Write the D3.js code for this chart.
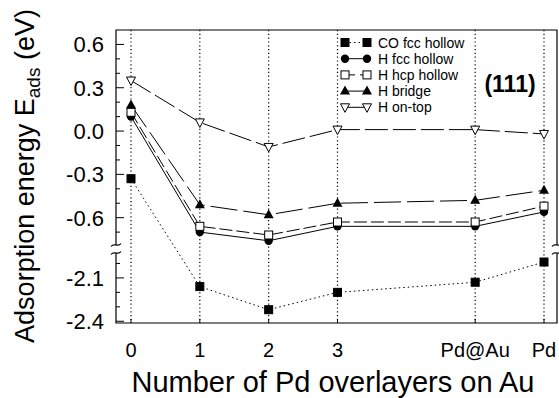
<!DOCTYPE html>
<html>
<head>
<meta charset="utf-8">
<script src="https://cdn.jsdelivr.net/npm/d3@7/dist/d3.min.js"></script>
<style>
  body { margin: 0; background: #fff; }
  svg { font-family: "Liberation Sans", Arial, Helvetica, sans-serif; }
</style>
</head>
<body>
<div id="chart"></div>
<script>
// x positions and their tick labels
var xPos = [0, 1, 2, 3, 5, 6];
var xLabels = ["0", "1", "2", "3", "Pd@Au", "Pd"];

// adsorption energies (eV)
var coFcc = [-0.33, -2.16, -2.32, -2.20, -2.13, -1.99];
var hFcc = [0.10, -0.70, -0.76, -0.66, -0.66, -0.56];
var hHcp = [0.13, -0.66, -0.72, -0.63, -0.63, -0.52];
var hBridge = [0.18, -0.51, -0.58, -0.50, -0.48, -0.41];
var hOnTop = [0.35, 0.06, -0.11, 0.01, 0.01, -0.02];

var seriesNames = ["CO fcc hollow", "H fcc hollow", "H hcp hollow", "H bridge", "H on-top"];

// y ticks on both sides of the axis break
var yMajor = [0.6, 0.3, 0.0, -0.3, -0.6, -2.1, -2.4];
var yMinor = [0.5, 0.4, 0.2, 0.1, -0.1, -0.2, -0.4, -0.5, -0.7, -2.0, -2.2, -2.3];

var W = 559, H = 398;
var pLeft = 116, pRight = 557, pTop = 30, pBottom = 323;
var breakY = 249;

var svg = d3.select("#chart").append("svg")
    .attr("width", W)
    .attr("height", H);

var x = d3.scaleLinear().domain([0, 6]).range([131, 544]);
// piecewise scale: upper part 0.7..-0.817, lower part -1.9..-2.412
var y = d3.scaleLinear()
    .domain([-2.412, -1.9, -0.817, 0.7])
    .range([pBottom, breakY, breakY, pTop]);

// vertical dotted grid lines
svg.append("g").selectAll("line")
    .data(xPos)
    .enter()
    .append("line")
    .attr("x1", function (d) { return x(d); })
    .attr("x2", function (d) { return x(d); })
    .attr("y1", pTop)
    .attr("y2", pBottom)
    .attr("stroke", "#000")
    .attr("stroke-width", 1.2)
    .attr("stroke-dasharray", "1.2,2.6");

// small solid ticks at the bottom
svg.append("g").selectAll("line")
    .data(xPos)
    .enter()
    .append("line")
    .attr("x1", function (d) { return x(d); })
    .attr("x2", function (d) { return x(d); })
    .attr("y1", pBottom)
    .attr("y2", pBottom - 4)
    .attr("stroke", "#000");

// y ticks (inside frame)
svg.append("g").selectAll("line")
    .data(yMajor)
    .enter()
    .append("line")
    .attr("x1", pLeft)
    .attr("x2", pLeft + 8)
    .attr("y1", function (d) { return y(d); })
    .attr("y2", function (d) { return y(d); })
    .attr("stroke", "#000");
svg.append("g").selectAll("line")
    .data(yMinor)
    .enter()
    .append("line")
    .attr("x1", pLeft)
    .attr("x2", pLeft + 4)
    .attr("y1", function (d) { return y(d); })
    .attr("y2", function (d) { return y(d); })
    .attr("stroke", "#000");

// frame, broken at the axis break
var b1 = breakY - 4, b2 = breakY + 4;
var frame = "M" + pLeft + "," + b1 + "V" + pTop + "H" + pRight + "V" + b1 +
    "M" + pLeft + "," + b2 + "V" + pBottom + "H" + pRight + "V" + b2;
svg.append("path")
    .attr("d", frame)
    .attr("fill", "none")
    .attr("stroke", "#000")
    .attr("stroke-width", 1.2);

// break marks
[pLeft, pRight].forEach(function (bx) {
    [b1, b2].forEach(function (by) {
        svg.append("path")
            .attr("d", "M" + (bx - 5) + "," + (by + 1.5) +
                " C" + (bx - 2) + "," + (by - 3) + " " + (bx + 2) + "," + (by + 3) + " " + (bx + 5) + "," + (by - 1.5))
            .attr("fill", "none")
            .attr("stroke", "#000")
            .attr("stroke-width", 1.2);
    });
});

// y tick labels
svg.append("g").selectAll("text")
    .data(yMajor)
    .enter()
    .append("text")
    .attr("x", pLeft - 12)
    .attr("y", function (d) { return y(d) + 8; })
    .attr("text-anchor", "end")
    .attr("font-size", 22)
    .text(function (d) { return d.toFixed(1); });

// x tick labels
svg.append("g").selectAll("text")
    .data(xPos)
    .enter()
    .append("text")
    .attr("x", function (d) { return x(d); })
    .attr("y", 357)
    .attr("text-anchor", "middle")
    .attr("font-size", 20)
    .text(function (d, i) { return xLabels[i]; });

// axis titles
svg.append("text")
    .attr("x", 333)
    .attr("y", 392)
    .attr("text-anchor", "middle")
    .attr("font-size", 29)
    .text("Number of Pd overlayers on Au");

var yt = svg.append("text")
    .attr("transform", "translate(34,176) rotate(-90)")
    .attr("text-anchor", "middle")
    .attr("font-size", 27);
yt.append("tspan").text("Adsorption energy E");
yt.append("tspan").attr("font-size", 19).attr("dy", 6).text("ads");
yt.append("tspan").attr("dy", -6).text(" (eV)");

// series styles
var dashes = ["1.5,3", null, "13,4", "27,6", "23,5"];
var markers = ["square", "circle", "squareOpen", "triangle", "triangleDown"];
var allSeries = [coFcc, hFcc, hHcp, hBridge, hOnTop];

function drawMarker(g, kind, cx, cy) {
    if (kind === "square" || kind === "squareOpen") {
        g.append("rect")
            .attr("x", cx - 4).attr("y", cy - 4)
            .attr("width", 8).attr("height", 8)
            .attr("fill", kind === "square" ? "#000" : "#fff")
            .attr("stroke", "#000").attr("stroke-width", 1);
    } else if (kind === "circle") {
        g.append("circle")
            .attr("cx", cx).attr("cy", cy).attr("r", 4.2)
            .attr("fill", "#000");
    } else if (kind === "triangle") {
        g.append("path")
            .attr("d", "M" + cx + "," + (cy - 5.5) + "L" + (cx + 5) + "," + (cy + 3.5) + "L" + (cx - 5) + "," + (cy + 3.5) + "Z")
            .attr("fill", "#000");
    } else {
        g.append("path")
            .attr("d", "M" + cx + "," + (cy + 5) + "L" + (cx + 4.5) + "," + (cy - 3.5) + "L" + (cx - 4.5) + "," + (cy - 3.5) + "Z")
            .attr("fill", "#fff").attr("stroke", "#000").attr("stroke-width", 1);
    }
}

var line = d3.line()
    .x(function (d, i) { return x(xPos[i]); })
    .y(function (d) { return y(d); });

// draw lines first, then markers on top
allSeries.forEach(function (s, k) {
    svg.append("path")
        .attr("d", line(s))
        .attr("fill", "none")
        .attr("stroke", "#000")
        .attr("stroke-width", 1)
        .attr("stroke-dasharray", dashes[k]);
});
allSeries.forEach(function (s, k) {
    var g = svg.append("g");
    s.forEach(function (v, i) {
        drawMarker(g, markers[k], x(xPos[i]), y(v));
    });
});

// legend
var legend = svg.append("g");
seriesNames.forEach(function (name, k) {
    var ly = 42.5 + k * 16.2;
    legend.append("rect")
        .attr("x", 340).attr("y", ly - 7)
        .attr("width", 130).attr("height", 14)
        .attr("fill", "#fff");
    legend.append("line")
        .attr("x1", 345).attr("x2", 367)
        .attr("y1", ly).attr("y2", ly)
        .attr("stroke", "#000")
        .attr("stroke-dasharray", k === 0 ? dashes[0] : (k === 2 ? "10,5" : null));
    drawMarker(legend, markers[k], 345, ly);
    drawMarker(legend, markers[k], 367, ly);
    legend.append("text")
        .attr("x", 378).attr("y", ly + 5)
        .attr("font-size", 14)
        .text(name);
});

// surface label
svg.append("text")
    .attr("x", 510)
    .attr("y", 92)
    .attr("text-anchor", "middle")
    .attr("font-size", 23)
    .attr("font-weight", "bold")
    .text("(111)");
</script>
</body>
</html>
